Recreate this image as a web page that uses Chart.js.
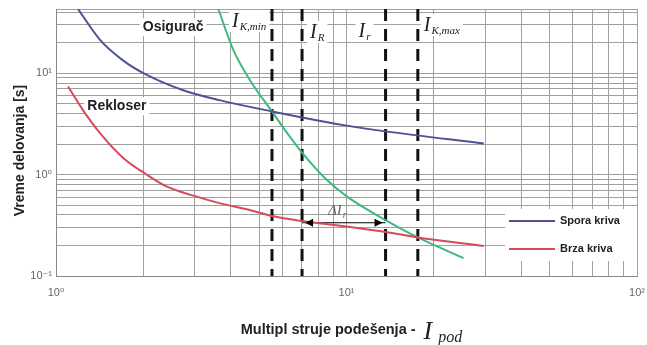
<!DOCTYPE html>
<html>
<head>
<meta charset="utf-8">
<title>Vreme delovanja</title>
<script src="https://cdn.jsdelivr.net/npm/chart.js"></script>
<style>
    body { margin: 0; background: #fff; }
    #wrap { width: 647px; height: 345px; }
</style>
</head>
<body>
<div id="wrap"><canvas id="myChart" width="647" height="345"></canvas></div>
<script>
// Spora kriva (rekloser)
const sporaX = [1.19, 1.42, 1.70, 2.03, 2.74, 3.68, 5.54, 7.03, 9.9, 13.63, 29.7];
const sporaY = [43, 21.2, 13.4, 9.8, 6.8, 5.4, 4.2, 3.66, 3.06, 2.67, 2.03];

// Brza kriva (rekloser)
const brzaX = [1.10, 1.24, 1.42, 1.70, 2.03, 2.41, 2.97, 3.68, 4.67, 5.54, 7.03, 10.3, 13.63, 17.6, 29.7];
const brzaY = [7.4, 4.3, 2.55, 1.47, 1.02, 0.76, 0.62, 0.52, 0.445, 0.39, 0.348, 0.304, 0.272, 0.24, 0.198];

// Osigurač
const osigX = [3.62, 4.08, 4.67, 5.54, 6.26, 7.03, 8.6, 10.1, 13.63, 17.6, 25.3];
const osigY = [43, 16.9, 8.4, 4.2, 2.55, 1.65, 0.873, 0.6, 0.356, 0.24, 0.15];

// struje (isprekidane linije)
const strujeNazivi = ['K,min', 'R', 'r', 'K,max'];
const strujeVrednosti = [5.54, 7.03, 13.63, 17.6];

// ΔI_r strelica
const deltaY = 0.335;

// ose
const xTickValues = [1, 10, 100];
const xTickLabels = ['10⁰', '10¹', '10²'];
const yTickValues = [0.1, 1, 10];
const yTickLabels = ['10⁻¹', '10⁰', '10¹'];
const xMin = 1, xMax = 100, yMin = 0.1, yMax = 43;

const plava = '#4f5196';
const crvena = '#d64b5b';
const zelena = '#3dba7c';

function toPoints(xs, ys) {
    return xs.map((x, i) => ({ x: x, y: ys[i] }));
}

// linije mreze na 1..9 x 10^k
function logGrid(min, max) {
    const ticks = [];
    for (let p = Math.floor(Math.log10(min)); p <= Math.ceil(Math.log10(max)); p++) {
        for (let m = 1; m <= 9; m++) {
            const v = +(m * Math.pow(10, p)).toPrecision(3);
            if (v >= min && v <= max) ticks.push({ value: v });
        }
    }
    if (ticks[ticks.length - 1].value !== max) ticks.push({ value: max });
    return ticks;
}

// raspored teksta (ne podaci)
const oznake = {
    tekst: [
        { text: 'Osigurač', x: 2.53, y: 28.4 },
        { text: 'Rekloser', x: 1.62, y: 4.73 }
    ],
    struje: { dx: [-40, 8, -27, 6], baseline: [18, 29, 28, 22] },
    legenda: { width: 132, height: 52, bottomGap: 15 }
};

function drawCurrentLabel(ctx, left, base, sub, bg) {
    ctx.font = 'italic 20px "Liberation Serif", serif';
    const wI = ctx.measureText('I').width;
    ctx.font = 'italic 11px "Liberation Serif", serif';
    const wS = ctx.measureText(sub).width;
    if (bg) {
        ctx.fillStyle = '#fff';
        ctx.fillRect(left - 3, base - 17, wI + wS + 7, 22);
    }
    ctx.fillStyle = '#222';
    ctx.textAlign = 'left';
    ctx.textBaseline = 'alphabetic';
    ctx.font = 'italic 20px "Liberation Serif", serif';
    ctx.fillText('I', left, base);
    ctx.font = 'italic 11px "Liberation Serif", serif';
    ctx.fillText(sub, left + wI + 1, base + 3);
}

const oznakePlugin = {
    id: 'oznake',
    beforeDatasetsDraw(chart) {
        const { ctx, chartArea, scales: { x, y } } = chart;
        ctx.save();

        ctx.font = 'bold 14px "Liberation Sans", Arial, sans-serif';
        ctx.textAlign = 'center';
        ctx.textBaseline = 'middle';
        oznake.tekst.forEach(t => {
            const px = x.getPixelForValue(t.x);
            const py = y.getPixelForValue(t.y);
            const w = ctx.measureText(t.text).width;
            ctx.fillStyle = '#fff';
            ctx.fillRect(px - w / 2 - 3, py - 9, w + 6, 18);
            ctx.fillStyle = '#222';
            ctx.fillText(t.text, px, py);
        });

        strujeNazivi.forEach((name, i) => {
            const px = x.getPixelForValue(strujeVrednosti[i]) + oznake.struje.dx[i];
            drawCurrentLabel(ctx, px, chartArea.top + oznake.struje.baseline[i], name, true);
        });

        // ΔI_r
        const dx = x.getPixelForValue(strujeVrednosti[1]) + 26;
        const dy = y.getPixelForValue(deltaY) - 8;
        ctx.fillStyle = '#666';
        ctx.textAlign = 'left';
        ctx.textBaseline = 'alphabetic';
        ctx.font = 'italic 15px "Liberation Serif", serif';
        ctx.fillText('ΔI', dx, dy);
        const wd = ctx.measureText('ΔI').width;
        ctx.font = 'italic 10px "Liberation Serif", serif';
        ctx.fillText('r', dx + wd + 1, dy + 3);

        ctx.restore();
    },
    afterDatasetsDraw(chart) {
        const { ctx, chartArea, scales: { x, y } } = chart;
        ctx.save();

        // vrhovi strelice
        const x1 = x.getPixelForValue(strujeVrednosti[1]);
        const x2 = x.getPixelForValue(strujeVrednosti[2]);
        const ay = y.getPixelForValue(deltaY);
        ctx.fillStyle = '#000';
        ctx.beginPath();
        ctx.moveTo(x1 + 3, ay);
        ctx.lineTo(x1 + 11, ay - 4);
        ctx.lineTo(x1 + 11, ay + 4);
        ctx.closePath();
        ctx.fill();
        ctx.beginPath();
        ctx.moveTo(x2 - 3, ay);
        ctx.lineTo(x2 - 11, ay - 4);
        ctx.lineTo(x2 - 11, ay + 4);
        ctx.closePath();
        ctx.fill();

        // legenda
        const lg = oznake.legenda;
        const left = chartArea.right - lg.width;
        const top = chartArea.bottom - lg.bottomGap - lg.height;
        ctx.fillStyle = '#fff';
        ctx.fillRect(left, top, lg.width, lg.height);
        const rows = chart.data.datasets.filter(d => d.showInLegend);
        rows.forEach((d, i) => {
            const ry = top + 12 + i * 28;
            ctx.strokeStyle = d.borderColor;
            ctx.lineWidth = 2;
            ctx.beginPath();
            ctx.moveTo(left + 4, ry);
            ctx.lineTo(left + 50, ry);
            ctx.stroke();
            ctx.fillStyle = '#222';
            ctx.font = 'bold 11px "Liberation Sans", Arial, sans-serif';
            ctx.textAlign = 'left';
            ctx.textBaseline = 'middle';
            ctx.fillText(d.label, left + 55, ry);
        });

        ctx.restore();
    },
    afterDraw(chart) {
        const { ctx, chartArea } = chart;
        ctx.save();

        // naslov y ose
        ctx.translate(20, (chartArea.top + chartArea.bottom) / 2 + 8);
        ctx.rotate(-Math.PI / 2);
        ctx.fillStyle = '#222';
        ctx.font = 'bold 14px "Liberation Sans", Arial, sans-serif';
        ctx.textAlign = 'center';
        ctx.textBaseline = 'middle';
        ctx.fillText('Vreme delovanja [s]', 0, 0);
        ctx.restore();

        // naslov x ose
        ctx.save();
        const main = 'Multipl struje podešenja - ';
        ctx.font = 'bold 14.5px "Liberation Sans", Arial, sans-serif';
        const wMain = ctx.measureText(main).width;
        ctx.font = 'italic 26px "Liberation Serif", serif';
        const wI = ctx.measureText('I').width;
        ctx.font = 'italic 16px "Liberation Serif", serif';
        const wPod = ctx.measureText('pod').width;
        let tx = (chartArea.left + chartArea.right) / 2 + 5 - (wMain + wI + wPod + 10) / 2;
        ctx.fillStyle = '#222';
        ctx.textAlign = 'left';
        ctx.textBaseline = 'alphabetic';
        ctx.font = 'bold 14.5px "Liberation Sans", Arial, sans-serif';
        ctx.fillText(main, tx, 334);
        tx += wMain + 4;
        ctx.font = 'italic 26px "Liberation Serif", serif';
        ctx.fillText('I', tx, 339);
        tx += wI + 6;
        ctx.font = 'italic 16px "Liberation Serif", serif';
        ctx.fillText('pod', tx, 342);
        ctx.restore();
    }
};

const datasets = [
    {
        label: 'Spora kriva',
        showInLegend: true,
        data: toPoints(sporaX, sporaY),
        borderColor: plava,
        borderWidth: 2,
        pointRadius: 0,
        cubicInterpolationMode: 'monotone'
    },
    {
        label: 'Brza kriva',
        showInLegend: true,
        data: toPoints(brzaX, brzaY),
        borderColor: crvena,
        borderWidth: 2,
        pointRadius: 0,
        cubicInterpolationMode: 'monotone'
    },
    {
        label: 'Osigurač',
        data: toPoints(osigX, osigY),
        borderColor: zelena,
        borderWidth: 2,
        pointRadius: 0,
        cubicInterpolationMode: 'monotone'
    }
];

strujeVrednosti.forEach((v, i) => {
    datasets.push({
        label: 'I ' + strujeNazivi[i],
        data: [{ x: v, y: yMax }, { x: v, y: yMin }],
        borderColor: '#111',
        borderWidth: 3,
        borderDash: [12, 8],
        pointRadius: 0
    });
});

datasets.push({
    label: 'ΔIr',
    data: [{ x: strujeVrednosti[1], y: deltaY }, { x: strujeVrednosti[2], y: deltaY }],
    borderColor: '#000',
    borderWidth: 1.2,
    pointRadius: 0
});

const ctx = document.getElementById('myChart').getContext('2d');
const myChart = new Chart(ctx, {
    type: 'line',
    data: { datasets: datasets },
    plugins: [oznakePlugin],
    options: {
        responsive: false,
        animation: false,
        devicePixelRatio: 1,
        layout: { padding: { top: 9, right: 10, left: 0, bottom: 0 } },
        plugins: {
            legend: { display: false },
            tooltip: { enabled: false }
        },
        scales: {
            x: {
                type: 'logarithmic',
                min: xMin,
                max: xMax,
                afterBuildTicks: function(axis) {
                    axis.ticks = logGrid(xMin, xMax);
                },
                afterFit: function(axis) {
                    axis.height = 69;
                    axis.paddingLeft = 0;
                    axis.paddingRight = 0;
                },
                grid: { color: '#a0a0a0', drawTicks: false },
                border: { color: '#888' },
                ticks: {
                    autoSkip: false,
                    maxRotation: 0,
                    padding: 10,
                    color: '#666',
                    font: { family: '"Liberation Sans", "DejaVu Sans", sans-serif', size: 11 },
                    callback: function(value) {
                        const i = xTickValues.indexOf(value);
                        return i >= 0 ? xTickLabels[i] : '';
                    }
                }
            },
            y: {
                type: 'logarithmic',
                min: yMin,
                max: yMax,
                afterBuildTicks: function(axis) {
                    axis.ticks = logGrid(yMin, yMax);
                },
                afterFit: function(axis) {
                    axis.width = 56;
                    axis.paddingTop = 0;
                    axis.paddingBottom = 0;
                },
                grid: { color: '#a0a0a0', drawTicks: false },
                border: { color: '#888' },
                ticks: {
                    autoSkip: false,
                    padding: 4,
                    color: '#666',
                    font: { family: '"Liberation Sans", "DejaVu Sans", sans-serif', size: 11 },
                    callback: function(value) {
                        const i = yTickValues.indexOf(value);
                        return i >= 0 ? yTickLabels[i] : '';
                    }
                }
            }
        }
    }
});
</script>
</body>
</html>
